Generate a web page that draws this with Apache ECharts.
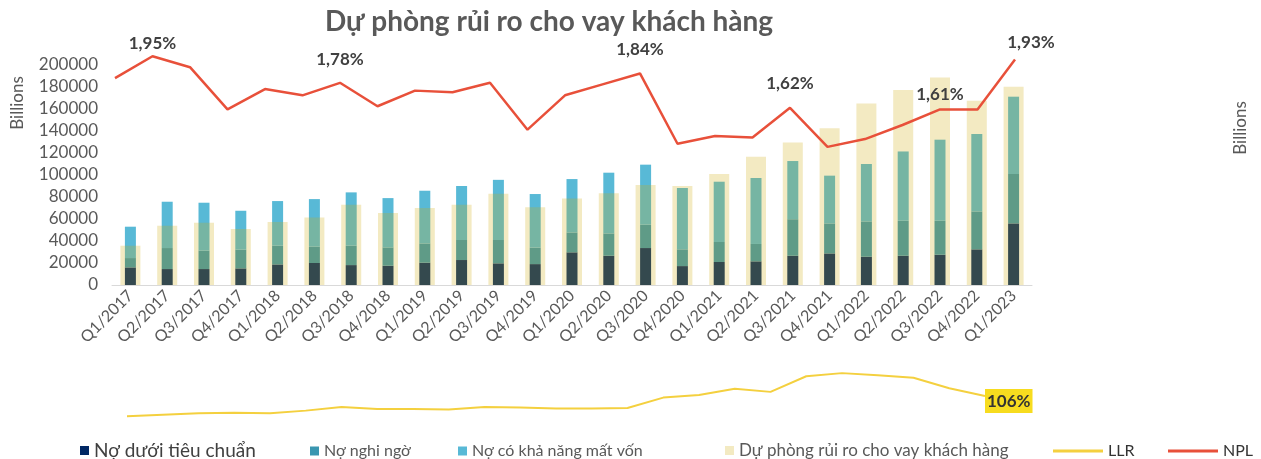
<!DOCTYPE html>
<html>
<head>
<meta charset="utf-8">
<title>Dự phòng rủi ro cho vay khách hàng</title>
<script src="https://cdn.jsdelivr.net/npm/echarts@6/dist/echarts.min.js"></script>
<style>
html, body { margin: 0; padding: 0; background: #fff; }
#chart { width: 1261px; height: 459px; }
</style>
</head>
<body>
<div id="chart"></div>
<script>
// quý
const quarters = ['Q1/2017', 'Q2/2017', 'Q3/2017', 'Q4/2017', 'Q1/2018', 'Q2/2018', 'Q3/2018', 'Q4/2018',
    'Q1/2019', 'Q2/2019', 'Q3/2019', 'Q4/2019', 'Q1/2020', 'Q2/2020', 'Q3/2020', 'Q4/2020',
    'Q1/2021', 'Q2/2021', 'Q3/2021', 'Q4/2021', 'Q1/2022', 'Q2/2022', 'Q3/2022', 'Q4/2022', 'Q1/2023'];
// tỷ đồng (Billions)
const substandard = [16000, 14500, 14500, 15100, 18700, 20000, 18100, 17500, 20300, 22700, 19700, 19000, 29700,
    26600, 33600, 17200, 20900, 21500, 26600, 28700, 25700, 26600, 27500, 32400, 56000];
const doubtful = [8500, 19100, 16700, 17000, 17000, 14800, 17600, 16700, 17500, 18200, 21200, 15000, 18100,
    20300, 21200, 15200, 18200, 15800, 33200, 27300, 32100, 31800, 30900, 34500, 44900];
const lossDebt = [28500, 42100, 43600, 35400, 40600, 43300, 48500, 44800, 47900, 49100, 54700, 48700, 48500,
    55200, 54600, 55800, 54800, 60000, 52900, 43400, 52200, 63000, 73700, 70400, 70300];
const provision = [35700, 53900, 56600, 50900, 57200, 61400, 73000, 65400, 70000, 73000, 83000, 70600, 78700,
    83300, 90900, 90000, 100900, 116600, 129600, 142400, 165100, 177300, 188700, 167500, 180300];
// %
const npl = [1.81, 1.95, 1.88, 1.61, 1.74, 1.70, 1.78, 1.63, 1.73, 1.72, 1.78, 1.48, 1.70, 1.77, 1.84,
    1.39, 1.44, 1.43, 1.62, 1.37, 1.42, 1.51, 1.61, 1.61, 1.93];
const llr = [67, 70, 73, 74, 73, 78, 85, 81, 81, 80, 85, 84, 82, 82, 83, 103, 108, 120, 114, 144, 150, 146, 141, 121, 106];

const chart = echarts.init(document.getElementById('chart'));
const FONT = 'Lato, "Noto Sans", sans-serif';
const GREY = '#595959';

// nhãn NPL: index -> [distance, offsetX]
const nplLabels = { 1: [4, 0], 6: [15, 0], 14: [15, 0], 18: [16, 0], 22: [6, 0], 24: [8, 16] };
const nplData = npl.map(function (v, i) {
    if (!nplLabels[i]) return v;
    return {
        value: v,
        label: { show: true, distance: nplLabels[i][0], offset: [nplLabels[i][1], 0] }
    };
});
const llrData = llr.map(function (v, i) {
    if (i !== llr.length - 1) return v;
    return { value: v, label: { show: true } };
});

function legendBox(name, left, top, opts) {
    return Object.assign({
        left: left,
        top: top,
        data: [name],
        icon: 'rect',
        itemWidth: 9,
        itemHeight: 9,
        itemGap: 0,
        textStyle: { color: GREY, fontSize: 16, fontFamily: FONT }
    }, opts || {});
}

const option = {
    animation: false,
    title: {
        text: 'Dự phòng rủi ro cho vay khách hàng',
        left: 320,
        top: 3,
        textStyle: { color: GREY, fontSize: 28, fontWeight: 'bold', fontFamily: FONT }
    },
    legend: [
        legendBox('Nợ dưới tiêu chuẩn', 75, 436, {
            textStyle: { color: '#404040', fontSize: 19, fontFamily: '"Liberation Sans Narrow", ' + FONT }
        }),
        legendBox('Nợ nghi ngờ', 305, 438),
        legendBox('Nợ có khả năng mất vốn', 453, 438),
        legendBox('Dự phòng rủi ro cho vay khách hàng', 720, 437, { textStyle: { color: GREY, fontSize: 17, fontFamily: FONT } }),
        legendBox('LLR', 1048, 438, { itemWidth: 50, itemHeight: 3, textStyle: { color: '#333', fontSize: 16, fontFamily: FONT } }),
        legendBox('NPL', 1163, 438, { itemWidth: 50, itemHeight: 3, textStyle: { color: '#333', fontSize: 16, fontFamily: FONT } })
    ],
    grid: [
        { left: 112, top: 65, width: 920, height: 220 },   // cột
        { left: 115, top: 50, width: 900, height: 100 },   // NPL
        { left: 127, top: 370, width: 858, height: 50 }    // LLR
    ],
    xAxis: [
        {
            type: 'category', gridIndex: 0, data: quarters,
            axisLine: { lineStyle: { color: '#d9d9d9' } },
            axisTick: { show: false },
            axisLabel: { rotate: 45, color: GREY, fontSize: 16, fontFamily: FONT, margin: 8, interval: 0 }
        },
        { type: 'category', gridIndex: 0, data: quarters, show: false },
        { type: 'category', gridIndex: 1, data: quarters, show: false, boundaryGap: false },
        { type: 'category', gridIndex: 2, data: quarters, show: false, boundaryGap: false }
    ],
    yAxis: [
        {
            type: 'value', gridIndex: 0, min: 0, max: 200000, interval: 20000,
            axisLine: { show: false }, axisTick: { show: false }, splitLine: { show: false },
            axisLabel: { color: GREY, fontSize: 17, fontFamily: FONT, margin: 14,
                formatter: function (v) { return String(v); } }
        },
        { type: 'value', gridIndex: 1, min: 1.35, max: 1.99, show: false },
        { type: 'value', gridIndex: 2, min: 60, max: 156, show: false }
    ],
    graphic: [
        {
            type: 'text', x: 18, y: 103, rotation: Math.PI / 2,
            style: { text: 'Billions', fill: GREY, fontSize: 17, fontFamily: FONT,
                textAlign: 'center', textVerticalAlign: 'middle', align: 'center', verticalAlign: 'middle' }
        },
        {
            type: 'text', x: 1241, y: 128, rotation: Math.PI / 2,
            style: { text: 'Billions', fill: GREY, fontSize: 17, fontFamily: FONT,
                textAlign: 'center', textVerticalAlign: 'middle', align: 'center', verticalAlign: 'middle' }
        }
    ],
    series: [
        {
            name: 'Nợ dưới tiêu chuẩn', type: 'bar', stack: 'no', barWidth: 11,
            xAxisIndex: 0, yAxisIndex: 0, itemStyle: { color: '#002864' }, data: substandard
        },
        {
            name: 'Nợ nghi ngờ', type: 'bar', stack: 'no', barWidth: 11,
            xAxisIndex: 0, yAxisIndex: 0, itemStyle: { color: '#3a96b0' }, data: doubtful
        },
        {
            name: 'Nợ có khả năng mất vốn', type: 'bar', stack: 'no', barWidth: 11,
            xAxisIndex: 0, yAxisIndex: 0, itemStyle: { color: '#58b9d6' }, data: lossDebt
        },
        {
            name: 'Dự phòng rủi ro cho vay khách hàng', type: 'bar', barWidth: 20,
            xAxisIndex: 1, yAxisIndex: 0, itemStyle: { color: 'rgba(207, 171, 11, 0.25)' }, data: provision
        },
        {
            name: 'NPL', type: 'line', xAxisIndex: 2, yAxisIndex: 1,
            symbol: 'circle', symbolSize: 0, showSymbol: true, clip: false,
            lineStyle: { color: '#e8503a', width: 2.5 }, itemStyle: { color: '#e8503a' },
            label: {
                position: 'top', color: '#404040', fontSize: 17, fontWeight: 'bold', fontFamily: FONT,
                formatter: function (p) { return p.value.toFixed(2).replace('.', ',') + '%'; }
            },
            data: nplData
        },
        {
            name: 'LLR', type: 'line', xAxisIndex: 3, yAxisIndex: 2,
            symbol: 'circle', symbolSize: 0, showSymbol: true, clip: false,
            lineStyle: { color: '#f4d03f', width: 2 }, itemStyle: { color: '#f4d03f' },
            label: {
                position: 'right', distance: 0, offset: [0, 5],
                backgroundColor: '#f7dc1f', padding: [4, 2, 3, 2],
                color: '#333', fontSize: 17, fontWeight: 'bold', fontFamily: FONT,
                formatter: function (p) { return p.value + '%'; }
            },
            data: llrData
        }
    ]
};
option && chart.setOption(option);
</script>
</body>
</html>
